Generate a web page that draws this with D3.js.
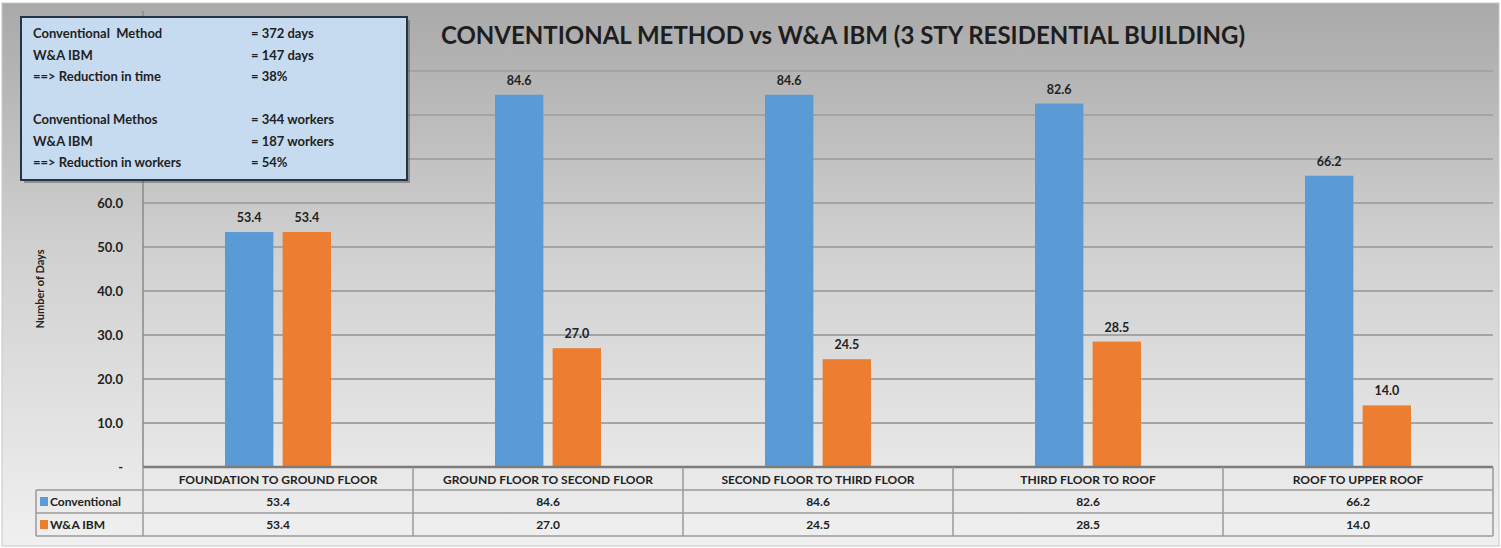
<!DOCTYPE html>
<html><head><meta charset="utf-8">
<script src="https://cdn.jsdelivr.net/npm/d3@7"></script>
<style>
html,body{margin:0;padding:0;background:#fff;}
svg{display:block;font-family:Lato,"Open Sans",sans-serif;font-weight:bold;}
</style></head>
<body><svg id="c" width="1501" height="548"></svg>
<script>
const categories = ["FOUNDATION TO GROUND FLOOR","GROUND FLOOR TO SECOND FLOOR","SECOND FLOOR TO THIRD FLOOR","THIRD FLOOR TO ROOF","ROOF TO UPPER ROOF"];
const seriesNames = ["Conventional","W&A IBM"];
const conventional = [53.4,84.6,84.6,82.6,66.2];
const wa_ibm = [53.4,27.0,24.5,28.5,14.0];
const gridTicks = [10,20,30,40,50,60,70,80,90];
const yTickLabels = [0,10,20,30,40,50,60];
const colors = ["#5b9bd5","#ed7d31"];
const title = "CONVENTIONAL METHOD vs W&A IBM (3 STY RESIDENTIAL BUILDING)";
const infoLeft = ["Conventional  Method","W&A IBM","==> Reduction in time","","Conventional Methos","W&A IBM","==> Reduction in workers"];
const infoRight = ["= 372 days","= 147 days","= 38%","","= 344 workers","= 187 workers","= 54%"];

(function(){
const svg = d3.select("#c");
const defs = svg.append("defs");
const g1 = defs.append("linearGradient").attr("id","bg").attr("x1",0).attr("y1",0).attr("x2",0).attr("y2",1);
g1.append("stop").attr("offset","0%").attr("stop-color","#a9a9a9");
g1.append("stop").attr("offset","45%").attr("stop-color","#d0d0d0");
g1.append("stop").attr("offset","100%").attr("stop-color","#f0f0f0");

svg.append("rect").attr("x",0).attr("y",0).attr("width",1501).attr("height",548).attr("fill","#fff");
svg.append("rect").attr("x",2).attr("y",3).attr("width",1497).attr("height",543).attr("fill","url(#bg)").attr("stroke","#c8c8c8");

const pL = 143, pR = 1493, pT = 71, pB = 467;
const y = d3.scaleLinear().domain([0,90]).range([pB, pT]);
const x0 = d3.scaleBand().domain(categories).range([pL,pR]).paddingInner(0).paddingOuter(0);
const x1 = d3.scaleBand().domain(seriesNames).range([x0.bandwidth()/2-53, x0.bandwidth()/2+53]).paddingInner(0.16);

svg.append("g").selectAll("line").data(gridTicks).join("line")
  .attr("x1",pL).attr("x2",pR).attr("y1",d=>y(d)).attr("y2",d=>y(d))
  .attr("stroke","#a4a4a4").attr("stroke-width",2);

const yAxis = d3.axisLeft(y).tickValues(yTickLabels).tickSize(0).tickPadding(0)
  .tickFormat(d=> d===0 ? "-" : d3.format(".1f")(d));
const ya = svg.append("g").attr("transform",`translate(${pL-20},0)`).call(yAxis);
ya.select(".domain").remove();
ya.selectAll("text").attr("font-size",13).attr("font-family","Lato, sans-serif").attr("font-weight","bold").attr("fill","#222");

svg.append("line").attr("x1",pL).attr("x2",pL).attr("y1",pT-60).attr("y2",pB).attr("stroke","#8a8a8a").attr("stroke-width",1.5);

svg.append("text").attr("transform",`translate(44,${(y(0)+y(90))/2+20}) rotate(-90)`)
  .attr("text-anchor","middle").attr("font-size",11).attr("fill","#222").text("Number of Days");

const data = categories.map((c,i)=>({c, vals:[{s:seriesNames[0],v:conventional[i]},{s:seriesNames[1],v:wa_ibm[i]}]}));
const groups = svg.append("g").selectAll("g").data(data).join("g").attr("transform",d=>`translate(${x0(d.c)},0)`);
groups.selectAll("rect").data(d=>d.vals).join("rect")
  .attr("x",d=>x1(d.s)).attr("width",x1.bandwidth())
  .attr("y",d=>y(d.v)).attr("height",d=>y(0)-y(d.v))
  .attr("fill",(d,i)=>colors[i]);
groups.selectAll("text").data(d=>d.vals).join("text")
  .attr("x",d=>x1(d.s)+x1.bandwidth()/2).attr("y",d=>y(d.v)-10)
  .attr("text-anchor","middle").attr("font-size",12.5).attr("fill","#222")
  .text(d=>d3.format(".1f")(d.v));

svg.append("line").attr("x1",pL).attr("x2",pR).attr("y1",pB).attr("y2",pB).attr("stroke","#7c7c7c").attr("stroke-width",2.5);

const rowH = 23;
const tLeft = 36;
const tab = svg.append("g");
const lineCol = "#9a9a9a";
tab.selectAll("text.h").data(categories).join("text").attr("class","h")
  .attr("x",d=>x0(d)+x0.bandwidth()/2).attr("y",pB+17)
  .attr("text-anchor","middle").attr("font-size",12).attr("fill","#222").text(d=>d);
[pB+rowH, pB+2*rowH, pB+3*rowH].forEach(yy=>{
  tab.append("line").attr("x1",tLeft).attr("x2",pR).attr("y1",yy).attr("y2",yy).attr("stroke",lineCol).attr("stroke-width",1.5);
});
tab.append("line").attr("x1",tLeft).attr("x2",tLeft).attr("y1",pB+rowH).attr("y2",pB+3*rowH).attr("stroke",lineCol).attr("stroke-width",1.5);
categories.forEach(c=>{
  tab.append("line").attr("x1",x0(c)).attr("x2",x0(c)).attr("y1",pB).attr("y2",pB+3*rowH).attr("stroke",lineCol).attr("stroke-width",1.5);
});
tab.append("line").attr("x1",pR).attr("x2",pR).attr("y1",pB).attr("y2",pB+3*rowH).attr("stroke",lineCol).attr("stroke-width",1.5);
[conventional, wa_ibm].forEach((arr,r)=>{
  const yy = pB + rowH*(r+1);
  tab.append("rect").attr("x",tLeft+4).attr("y",yy+7).attr("width",8).attr("height",9).attr("fill",colors[r]);
  tab.append("text").attr("x",tLeft+14).attr("y",yy+16).attr("font-size",12).attr("fill","#222").text(seriesNames[r]);
  tab.selectAll("text.v"+r).data(arr).join("text").attr("class","v"+r)
    .attr("x",(d,i)=>x0(categories[i])+x0.bandwidth()/2).attr("y",yy+16)
    .attr("text-anchor","middle").attr("font-size",12).attr("fill","#222").text(d=>d3.format(".1f")(d));
});

svg.append("text").attr("x",843).attr("y",44).attr("text-anchor","middle")
  .attr("font-size",24).attr("fill","#1e1e1e").text(title);

const box = svg.append("g");
box.append("rect").attr("x",24).attr("y",20).attr("width",386).attr("height",163).attr("fill","#555").attr("opacity",0.5);
box.append("rect").attr("x",21).attr("y",17).attr("width",386).attr("height",163).attr("fill","#c6dbf0").attr("stroke","#263545").attr("stroke-width",2);
const lineYs = [34,56,77,null,120,142,163];
infoLeft.forEach((t,i)=>{
  if(!t) return;
  box.append("text").attr("x",33).attr("y",lineYs[i]+4).attr("font-size",13).attr("fill","#222").attr("xml:space","preserve").text(t);
  box.append("text").attr("x",251).attr("y",lineYs[i]+4).attr("font-size",13).attr("fill","#222").text(infoRight[i]);
});
})();
</script></body></html>
